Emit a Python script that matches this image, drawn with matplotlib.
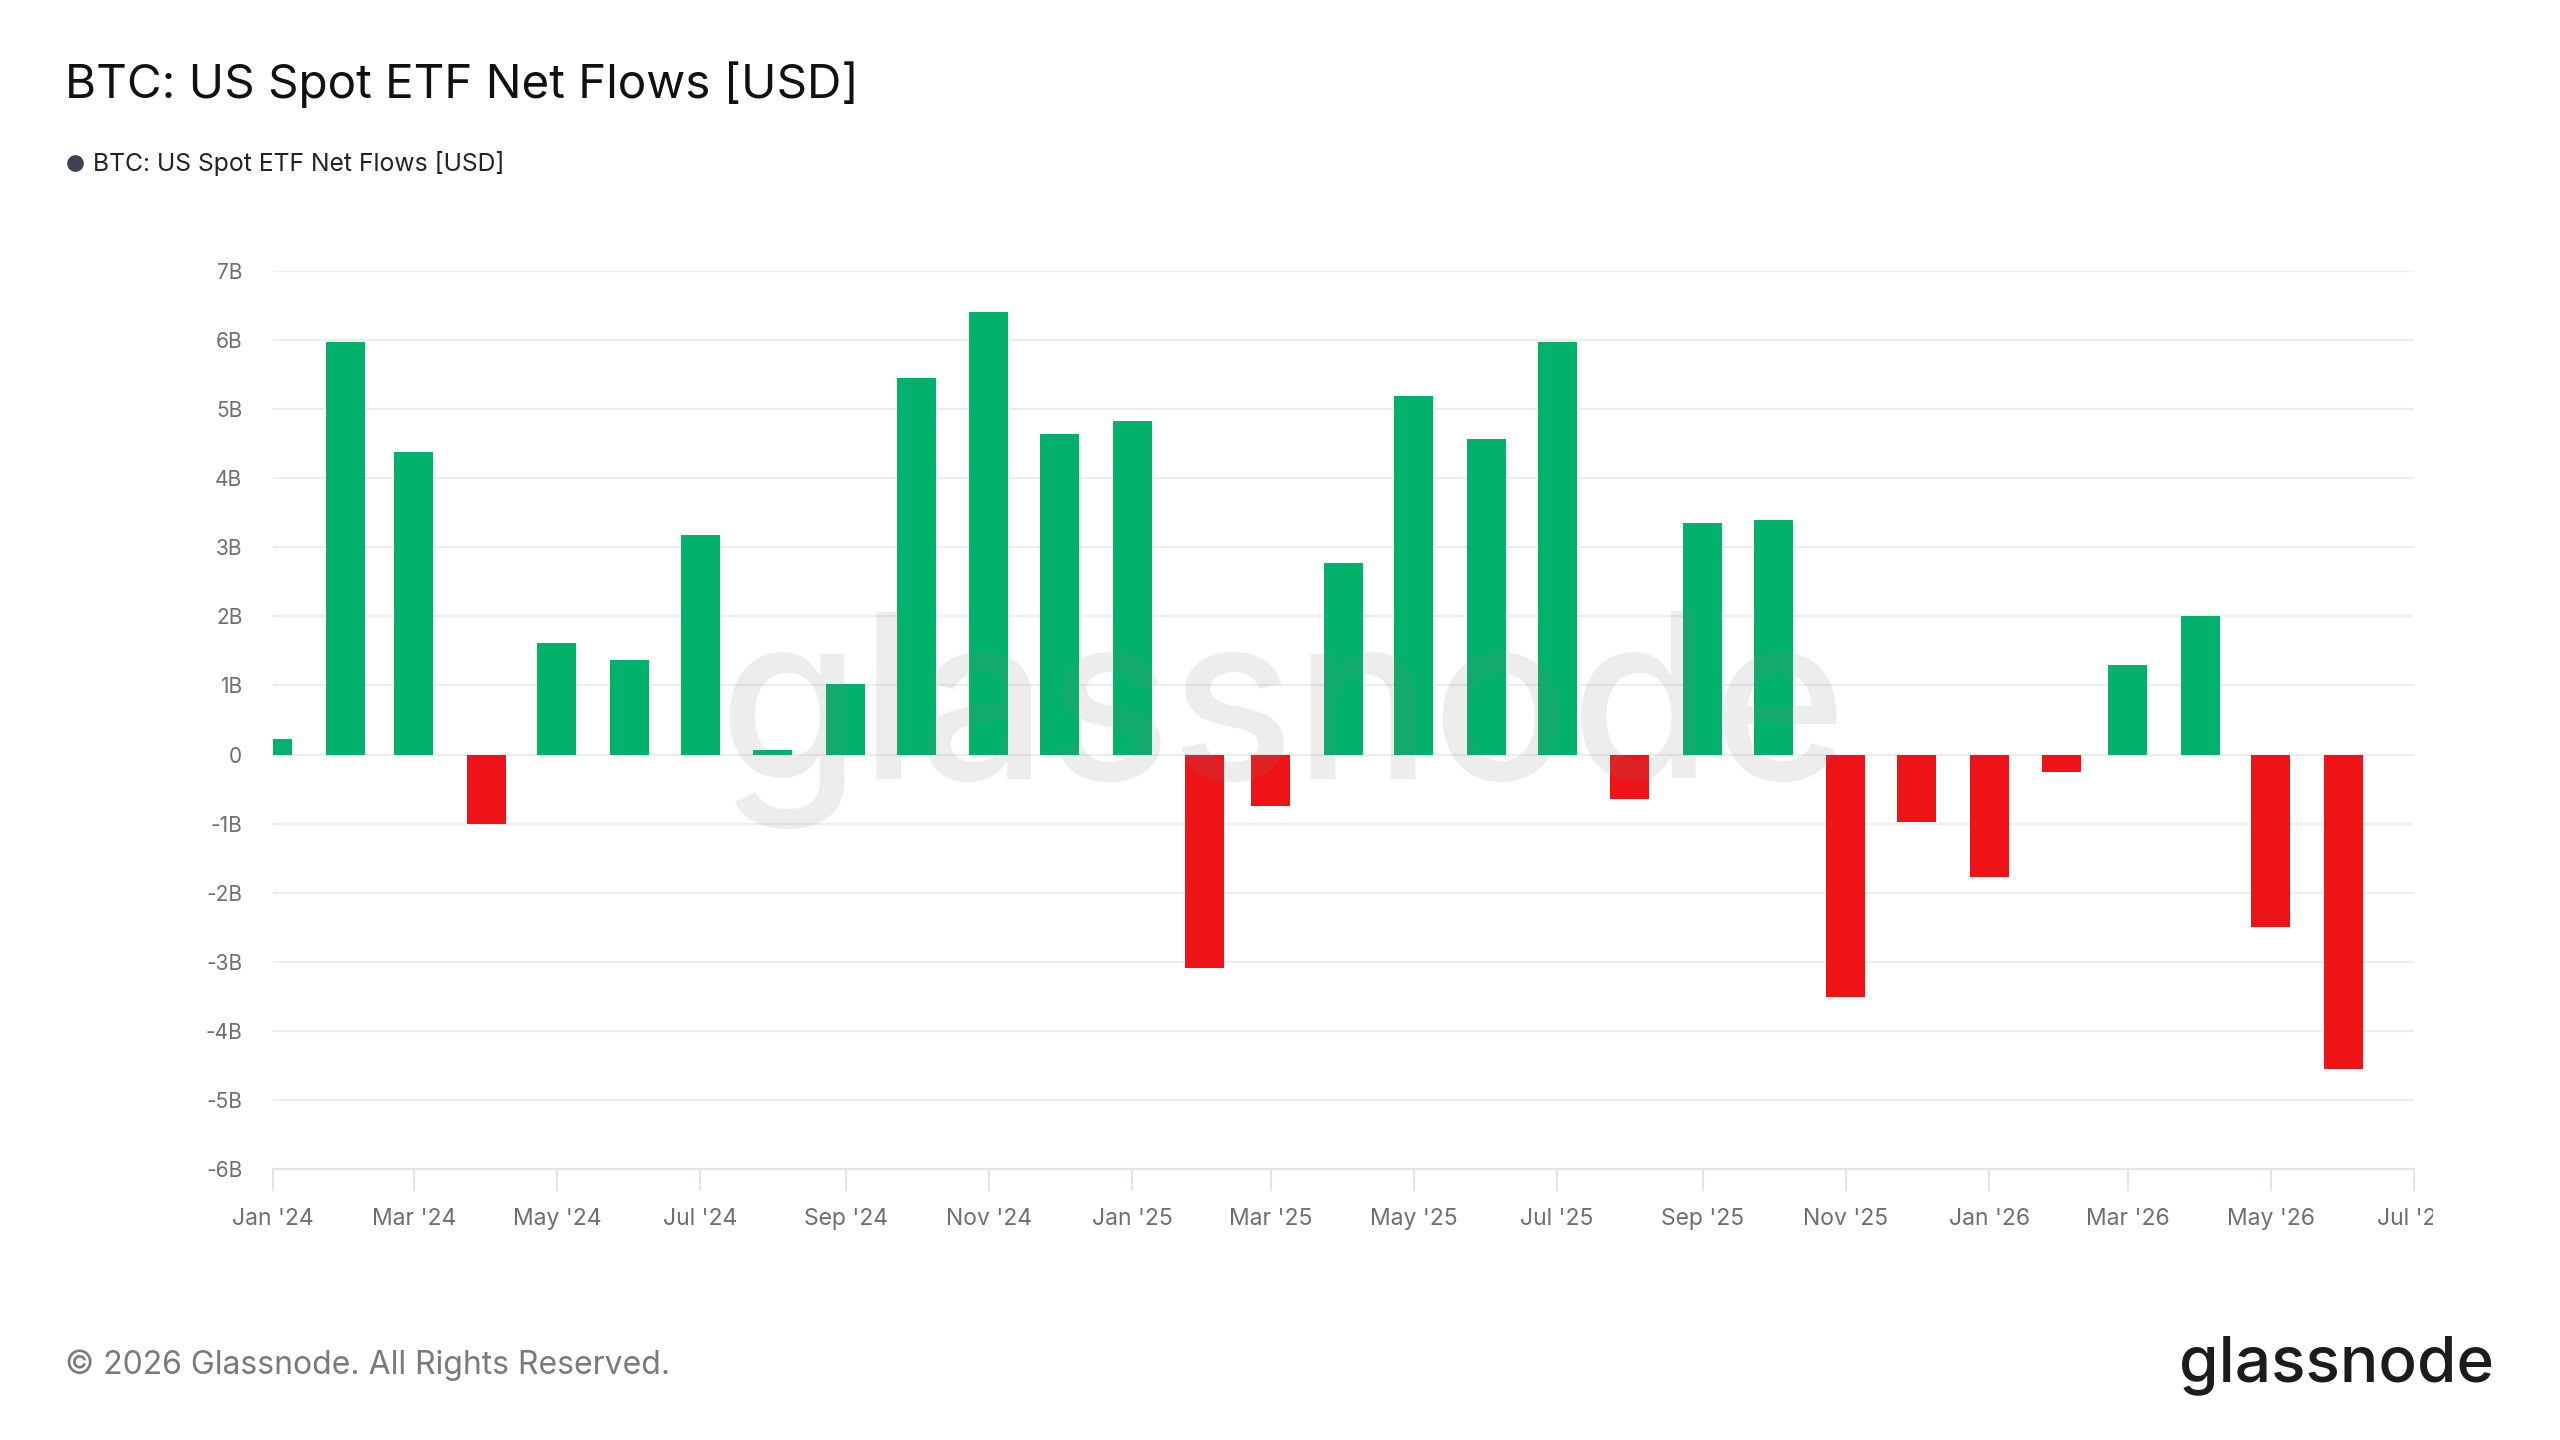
import numpy as np
import matplotlib
matplotlib.use("Agg")
import matplotlib.pyplot as plt
import matplotlib.dates as mdates
from matplotlib.transforms import Bbox, TransformedBbox
import pandas as pd

plt.rcParams["font.family"] = ["Inter", "DejaVu Sans"]

months = ["2024-01", "2024-02", "2024-03", "2024-04", "2024-05", "2024-06",
          "2024-07", "2024-08", "2024-09", "2024-10", "2024-11", "2024-12",
          "2025-01", "2025-02", "2025-03", "2025-04", "2025-05", "2025-06",
          "2025-07", "2025-08", "2025-09", "2025-10", "2025-11", "2025-12",
          "2026-01", "2026-02", "2026-03", "2026-04", "2026-05", "2026-06"]
# net flows, billions USD
flows = [0.22, 5.97, 4.38, -1.00, 1.62, 1.37,
         3.18, 0.06, 1.02, 5.45, 6.40, 4.64,
         4.83, -3.09, -0.74, 2.77, 5.19, 4.57,
         5.97, -0.65, 3.35, 3.40, -3.51, -0.97,
         -1.77, -0.26, 1.29, 2.00, -2.49, -4.55]
ytick_vals = [-6, -5, -4, -3, -2, -1, 0, 1, 2, 3, 4, 5, 6, 7]
ytick_labels = ["-6B", "-5B", "-4B", "-3B", "-2B", "-1B", "0",
                "1B", "2B", "3B", "4B", "5B", "6B", "7B"]
xtick_dates = ["2024-01", "2024-03", "2024-05", "2024-07", "2024-09", "2024-11",
               "2025-01", "2025-03", "2025-05", "2025-07", "2025-09", "2025-11",
               "2026-01", "2026-03", "2026-05", "2026-07"]
xtick_labels = ["Jan '24", "Mar '24", "May '24", "Jul '24", "Sep '24", "Nov '24",
                "Jan '25", "Mar '25", "May '25", "Jul '25", "Sep '25", "Nov '25",
                "Jan '26", "Mar '26", "May '26", "Jul '26"]

GREEN = "#02b16b"
RED = "#ee1317"

fig = plt.figure(figsize=(25.6, 14.4), dpi=100)
ax = fig.add_axes([0.1066, 0.1882, 0.8364, 0.6236])

x = mdates.date2num(pd.to_datetime(months))
vals = np.array(flows)
colors = [GREEN if v >= 0 else RED for v in vals]
ax.bar(x, vals, width=16.6, color=colors, zorder=2)

ax.set_xlim(mdates.date2num(pd.Timestamp("2024-01-01")),
            mdates.date2num(pd.Timestamp("2026-07-01")))
ax.set_ylim(-6, 7)

ax.set_yticks(ytick_vals)
ax.set_yticklabels(ytick_labels)
ax.set_xticks(mdates.date2num(pd.to_datetime(xtick_dates)))
ax.set_xticklabels(xtick_labels)

ax.grid(axis="y", color="#ededf0", linewidth=1.6, zorder=0)
for s in ["top", "right", "left"]:
    ax.spines[s].set_visible(False)
ax.spines["bottom"].set_color("#e2e4e8")
ax.spines["bottom"].set_linewidth(1.6)
ax.tick_params(axis="y", length=0, pad=22, labelsize=15, labelcolor="#6e6e6e")
ax.tick_params(axis="x", length=16, width=1.4, color="#e2e4e8", pad=12,
               labelsize=16.5, labelcolor="#6e6e6e")

# last label is cut off in the original
fig.canvas.draw()
last = ax.get_xticklabels()[-1]
last.set_clip_box(TransformedBbox(Bbox([[0, 0], [2433 / 2560, 1]]), fig.transFigure))
last.set_clip_on(True)

# watermark
ax.text(0.4715, 0.50, "glassnode", transform=ax.transAxes, ha="center", va="center",
        fontsize=165, fontweight="medium", color="#808080", alpha=0.14, zorder=3)

fig.text(65 / 2560, 1 - 85 / 1440, "BTC: US Spot ETF Net Flows [USD]",
         fontsize=34.3, color="#111111", va="center", ha="left")
fig.text(93 / 2560, 1 - 163 / 1440, "BTC: US Spot ETF Net Flows [USD]",
         fontsize=17.8, color="#222222", va="center", ha="left")
fig.add_artist(plt.Line2D([75 / 2560], [1 - 163 / 1440], marker="o", markersize=11,
                          color="#3d4251", transform=fig.transFigure))

fig.text(65 / 2560, 1 - 1365 / 1440, "\u00a9 2026 Glassnode. All Rights Reserved.",
         fontsize=23, color="#7a7a7a", va="center", ha="left")
fig.text(2494 / 2560, 1 - 1365 / 1440, "glassnode", fontsize=46, color="#1c1c1c",
         fontweight="medium", va="center", ha="right")

plt.savefig("out.png", dpi=100, facecolor="white")
